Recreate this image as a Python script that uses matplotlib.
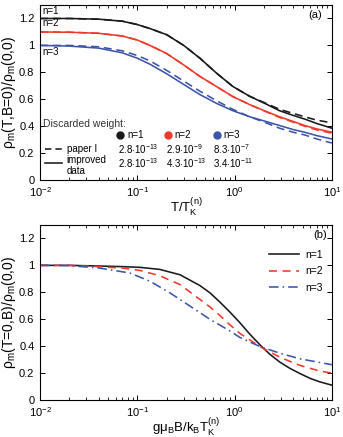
import matplotlib
matplotlib.use('Agg')
import matplotlib.pyplot as plt
from matplotlib.ticker import FuncFormatter, LogLocator, NullFormatter
from matplotlib.lines import Line2D

plt.rcParams['font.family'] = ['Liberation Sans', 'DejaVu Sans']
plt.rcParams['mathtext.fontset'] = 'custom'
plt.rcParams['mathtext.rm'] = 'Liberation Sans'
plt.rcParams['mathtext.it'] = 'Liberation Sans:italic'
plt.rcParams['mathtext.bf'] = 'Liberation Sans:bold'

BLACK = '#1a1a1a'
RED = '#ee3a2c'
BLUE = '#3d55a8'

# panel (a): rho_m(T, B=0) / rho_m(0, 0)
t_vals = [0.01, 0.02, 0.04, 0.07, 0.1, 0.135, 0.2, 0.3, 0.44, 0.65, 0.96, 1.43, 2.1, 2.9, 4.0, 5.25, 7.0, 10]
n1_improved = [1.20, 1.20, 1.195, 1.18, 1.155, 1.125, 1.08, 1.0, 0.905, 0.795, 0.695, 0.622, 0.565, 0.515, 0.48, 0.453, 0.42, 0.385]
n2_improved = [1.10, 1.098, 1.09, 1.07, 1.04, 1.0, 0.94, 0.855, 0.77, 0.695, 0.62, 0.56, 0.51, 0.47, 0.435, 0.405, 0.38, 0.355]
n3_improved = [1.00, 0.995, 0.98, 0.945, 0.905, 0.86, 0.79, 0.71, 0.635, 0.57, 0.515, 0.47, 0.435, 0.405, 0.375, 0.355, 0.33, 0.305]
n1_paper = [1.20, 1.20, 1.195, 1.18, 1.155, 1.125, 1.08, 1.0, 0.905, 0.795, 0.695, 0.622, 0.57, 0.525, 0.495, 0.47, 0.445, 0.425]
n2_paper = [1.10, 1.098, 1.09, 1.07, 1.04, 1.0, 0.94, 0.855, 0.77, 0.695, 0.62, 0.56, 0.508, 0.465, 0.43, 0.40, 0.372, 0.348]
n3_paper = [1.00, 1.0, 0.99, 0.96, 0.925, 0.885, 0.815, 0.735, 0.66, 0.59, 0.525, 0.47, 0.425, 0.385, 0.355, 0.335, 0.305, 0.275]

weights_paper = ['2.8', '-13', '2.9', '-9', '8.3', '-7']
weights_improved = ['2.8', '-13', '4.3', '-13', '3.4', '-11']

# panel (b): rho_m(T=0, B) / rho_m(0, 0)
b_vals1 = [0.01, 0.02, 0.041, 0.074, 0.107, 0.17, 0.275, 0.44, 0.56, 0.7, 0.89, 1.13, 1.43, 1.82, 2.3, 2.91, 3.7, 4.68, 6.0, 7.5, 10]
b_n1 = [1.0, 1.0, 0.995, 0.99, 0.985, 0.97, 0.93, 0.85, 0.795, 0.73, 0.655, 0.575, 0.49, 0.41, 0.34, 0.282, 0.235, 0.197, 0.16, 0.135, 0.11]
b_vals2 = [0.01, 0.02, 0.041, 0.074, 0.107, 0.17, 0.275, 0.44, 0.56, 0.7, 0.89, 1.13, 1.82, 2.91, 4.68, 7.5, 10]
b_n2 = [1.0, 1.0, 0.99, 0.978, 0.962, 0.923, 0.857, 0.747, 0.69, 0.63, 0.56, 0.495, 0.397, 0.318, 0.257, 0.215, 0.2]
b_vals3 = [0.01, 0.02, 0.041, 0.084, 0.135, 0.216, 0.347, 0.556, 0.89, 1.13, 1.82, 2.91, 4.68, 10]
b_n3 = [1.0, 0.998, 0.98, 0.943, 0.882, 0.796, 0.698, 0.6, 0.514, 0.465, 0.397, 0.348, 0.306, 0.262]


def style_axes(ax):
    ax.set_xscale('log')
    ax.set_xlim(1e-2, 1e1)
    ax.set_ylim(0, 1.3)
    ax.set_yticks([0, 0.2, 0.4, 0.6, 0.8, 1.0, 1.2])
    ax.yaxis.set_major_formatter(FuncFormatter(lambda v, p: '%g' % v))
    ax.xaxis.set_major_locator(LogLocator(base=10, numticks=10))
    ax.xaxis.set_minor_locator(LogLocator(base=10, subs=range(2, 10), numticks=10))
    ax.xaxis.set_minor_formatter(NullFormatter())
    ax.tick_params(which='both', direction='in', top=True, right=True, labelsize=8, pad=4)
    ax.tick_params(which='major', length=3.5, width=0.7)
    ax.tick_params(which='minor', length=2, width=0.6)
    for s in ax.spines.values():
        s.set_linewidth(0.8)


fig = plt.figure(figsize=(3.43, 4.37), dpi=100)
ax1 = fig.add_axes([0.1166, 0.588, 0.851, 0.4005])
ax2 = fig.add_axes([0.1166, 0.0847, 0.851, 0.4005])

lw = 1.15
dash = (0, (5, 3))
ax1.plot(t_vals, n1_paper, color=BLACK, lw=lw, linestyle=dash)
ax1.plot(t_vals, n2_paper, color=RED, lw=lw, linestyle=dash)
ax1.plot(t_vals, n3_paper, color=BLUE, lw=lw, linestyle=dash)
ax1.plot(t_vals, n1_improved, color=BLACK, lw=lw)
ax1.plot(t_vals, n2_improved, color=RED, lw=lw)
ax1.plot(t_vals, n3_improved, color=BLUE, lw=lw)
style_axes(ax1)
ax1.set_xlabel('T/T$_\\mathrm{K}^\\mathrm{(n)}$', fontsize=9.5, labelpad=-2)
ax1.set_ylabel('ρ$_\\mathrm{m}$(T,B=0)/ρ$_\\mathrm{m}$(0,0)', fontsize=10, labelpad=1)

tr = ax1.transAxes
fs = 7
ax1.text(0.007, 0.968, 'n=1', transform=tr, fontsize=fs, va='center')
ax1.text(0.007, 0.895, 'n=2', transform=tr, fontsize=fs, va='center')
ax1.text(0.007, 0.733, 'n=3', transform=tr, fontsize=fs, va='center')
ax1.text(0.942, 0.943, '(a)', transform=tr, fontsize=8, va='center', ha='center')
ax1.text(0.01, 0.318, 'Discarded weight:', transform=tr, fontsize=7.5, va='center', color='#333333')

for xd, xt, col, lab in [(0.274, 0.298, BLACK, 'n=1'), (0.438, 0.462, RED, 'n=2'), (0.606, 0.63, BLUE, 'n=3')]:
    ax1.plot([xd], [0.255], 'o', color=col, ms=5, transform=tr, clip_on=False)
    ax1.text(xt, 0.255, lab, transform=tr, fontsize=fs, va='center')

ax1.add_line(Line2D([0.017, 0.075], [0.177, 0.177], color=BLACK, lw=lw, linestyle=(0, (4, 2.5)), transform=tr))
ax1.add_line(Line2D([0.017, 0.075], [0.097, 0.097], color=BLACK, lw=lw, transform=tr))
ax1.text(0.092, 0.177, 'paper I', transform=tr, fontsize=fs, va='center')
ax1.text(0.092, 0.117, 'improved', transform=tr, fontsize=fs, va='center')
ax1.text(0.092, 0.051, 'data', transform=tr, fontsize=fs, va='center')
for xs, (m1, e1) in zip([0.267, 0.432, 0.592], zip(weights_paper[::2], weights_paper[1::2])):
    ax1.text(xs, 0.177, m1 + '$\\cdot$10$^{' + e1 + '}$', transform=tr, fontsize=fs, va='center')
for xs, (m1, e1) in zip([0.267, 0.432, 0.592], zip(weights_improved[::2], weights_improved[1::2])):
    ax1.text(xs, 0.097, m1 + '$\\cdot$10$^{' + e1 + '}$', transform=tr, fontsize=fs, va='center')

ax2.plot(b_vals1, b_n1, color=BLACK, lw=lw, label='n=1')
ax2.plot(b_vals2, b_n2, color=RED, lw=lw, linestyle=(0, (5, 3.5)), label='n=2')
ax2.plot(b_vals3, b_n3, color=BLUE, lw=lw, linestyle=(0, (6, 2.5, 1, 2.5)), label='n=3')
style_axes(ax2)
ax2.set_xlabel('gμ$_\\mathrm{B}$B/k$_\\mathrm{B}$T$_\\mathrm{K}^\\mathrm{(n)}$', fontsize=9.5, labelpad=-2)
ax2.set_ylabel('ρ$_\\mathrm{m}$(T=0,B)/ρ$_\\mathrm{m}$(0,0)', fontsize=10, labelpad=1)
ax2.text(0.96, 0.943, '(b)', transform=ax2.transAxes, fontsize=8, va='center', ha='center')
ax2.legend(loc='upper right', bbox_to_anchor=(1.0, 0.91), frameon=False, fontsize=7.5,
           handlelength=2.8, labelspacing=0.6, handletextpad=0.6)

fig.savefig('out.png', dpi=100)
